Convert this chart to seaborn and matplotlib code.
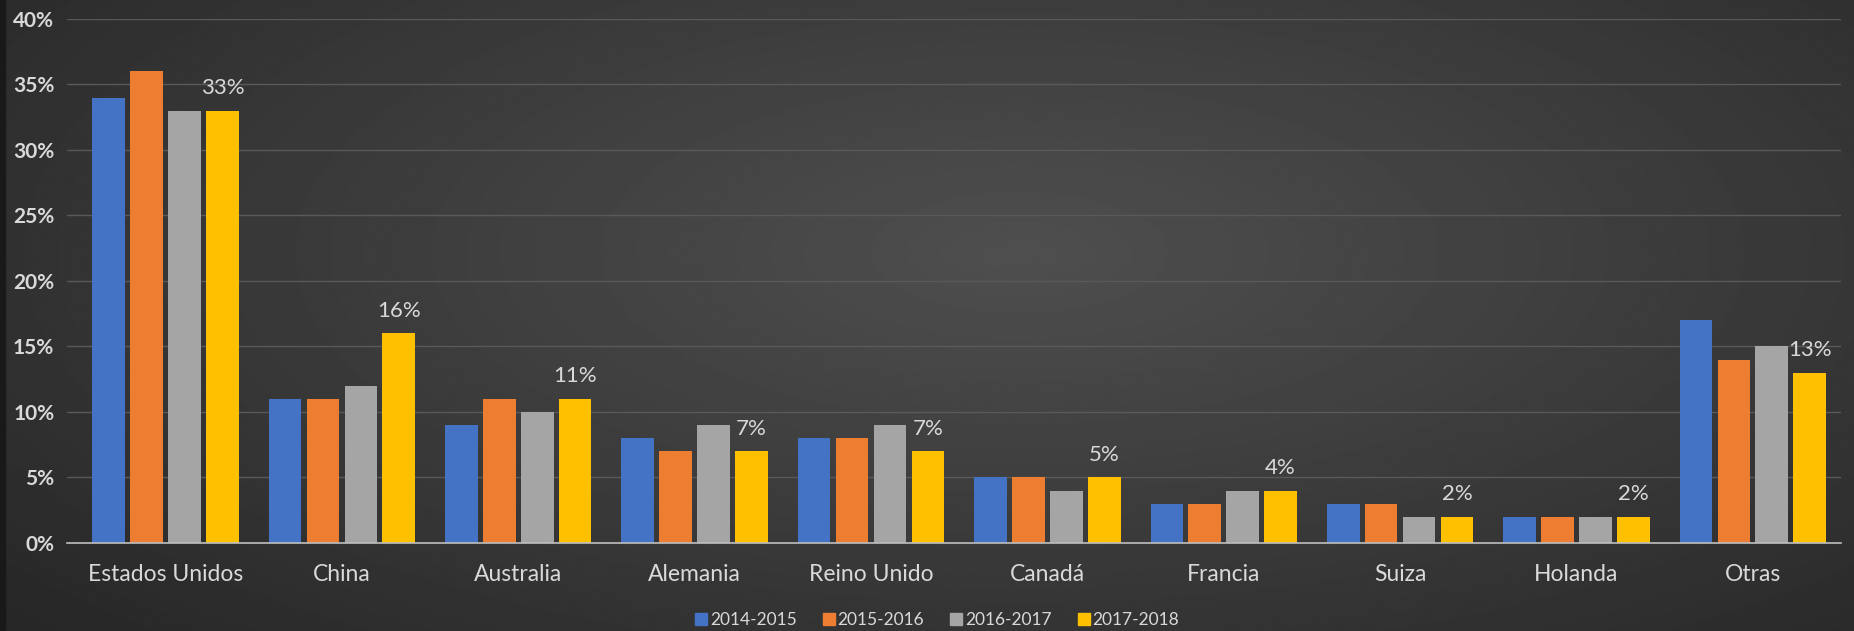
import matplotlib
matplotlib.use("Agg")
import matplotlib.pyplot as plt
import matplotlib.ticker as mtick
import numpy as np
import pandas as pd
import seaborn as sb

sb.set_theme(style="dark")
plt.rcParams["font.family"] = ["Lato", "DejaVu Sans"]

# data (percent)
paises = ["Estados Unidos", "China", "Australia", "Alemania", "Reino Unido",
          "Canadá", "Francia", "Suiza", "Holanda", "Otras"]
periodos = ["2014-2015", "2015-2016", "2016-2017", "2017-2018"]
v_2014 = [34, 11, 9, 8, 8, 5, 3, 3, 2, 17]
v_2015 = [36, 11, 11, 7, 8, 5, 3, 3, 2, 14]
v_2016 = [33, 12, 10, 9, 9, 4, 4, 2, 2, 15]
v_2017 = [33, 16, 11, 7, 7, 5, 4, 2, 2, 13]
colores = ["#4472C4", "#ED7D31", "#A5A5A5", "#FFC000"]

df = pd.DataFrame({
    "pais": paises * 4,
    "periodo": np.repeat(periodos, len(paises)),
    "valor": v_2014 + v_2015 + v_2016 + v_2017,
})

fig = plt.figure(figsize=(18.54, 6.31), dpi=100)

# dark radial background like the original slide
bg = fig.add_axes([0, 0, 1, 1], zorder=-10)
yy, xx = np.mgrid[0:1:300j, 0:1:900j]
r = np.sqrt(((xx - 0.55) / 0.75) ** 2 + ((yy - 0.4) / 0.9) ** 2)
shade = np.clip(0.31 - 0.16 * r, 0.14, 0.31)
shade[:, :3] = 0.1  # thin dark strip on the left edge
bg.imshow(shade, cmap="gray", vmin=0, vmax=1, aspect="auto", extent=[0, 1, 0, 1])
bg.axis("off")

ax = fig.add_axes([0.036, 0.1395, 0.957, 0.8305])
ax.set_facecolor("none")

sb.barplot(data=df, x="pais", y="valor", hue="periodo", palette=colores,
           width=0.86, gap=0.14, saturation=1, linewidth=0, ax=ax, legend=True)

# label only the last period
ax.bar_label(ax.containers[3], labels=[f"{v}%" for v in v_2017], padding=9,
             color="#d9d9d9", fontsize=16)

ax.set_ylim(0, 40)
ax.set_xlim(-0.56, len(paises) - 0.5)
ax.yaxis.set_major_locator(mtick.MultipleLocator(5))
ax.yaxis.set_major_formatter(mtick.PercentFormatter(decimals=0))
ax.grid(axis="y", color="#595959", linewidth=1)
ax.set_axisbelow(True)
for s in ["top", "right", "left"]:
    ax.spines[s].set_visible(False)
ax.spines["bottom"].set_color("#bfbfbf")
ax.spines["bottom"].set_linewidth(1.2)
ax.tick_params(axis="x", colors="#d9d9d9", labelsize=16.5, pad=15, length=0)
ax.tick_params(axis="y", colors="#d9d9d9", labelsize=15, pad=9, length=0)
for t in ax.get_yticklabels():
    t.set_fontweight("bold")
ax.set_xlabel("")
ax.set_ylabel("")

ax.legend_.remove()
handles = [plt.Line2D([], [], marker="s", linestyle="", markersize=9,
                      color=c) for c in colores]
fig.legend(handles, periodos, loc="lower center", ncol=4, frameon=False,
           fontsize=12.5, labelcolor="#d9d9d9", handletextpad=0.05,
           handlelength=0.9, columnspacing=1.4, bbox_to_anchor=(0.505, -0.02))

fig.savefig("out.png", dpi=100)
